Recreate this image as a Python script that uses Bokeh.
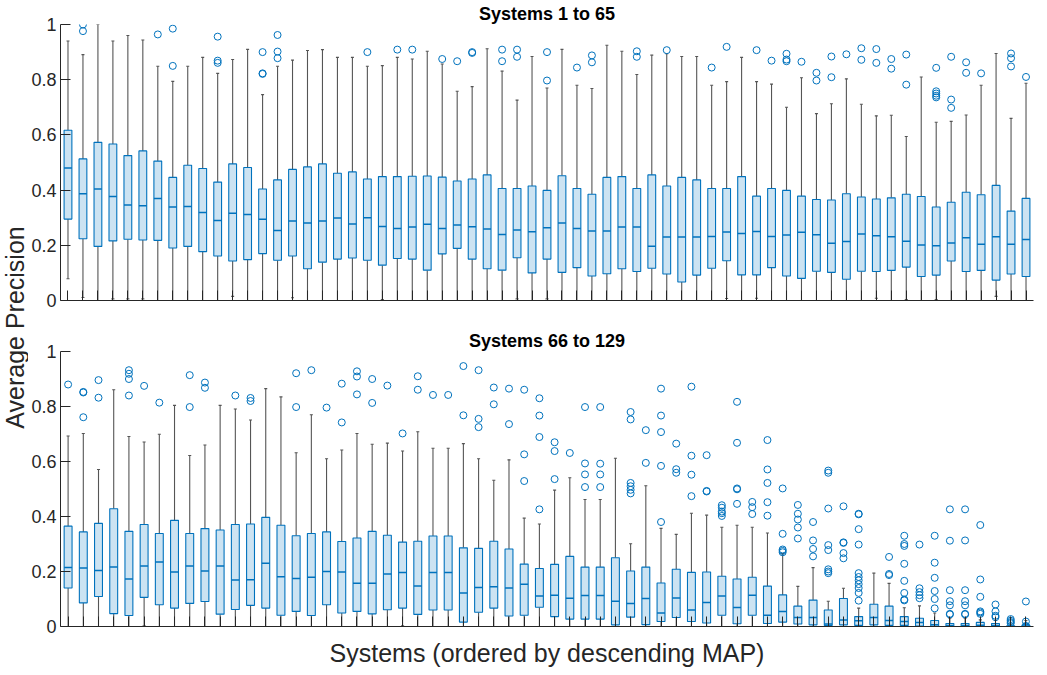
import math
from bokeh.plotting import figure
from bokeh.models import Range1d, FixedTicker, Label, CustomJSTickFormatter
from bokeh.layouts import row, column
from bokeh.embed import file_html
from bokeh.resources import INLINE

# ---------------- data: panel 1 (systems 1 to 65) ----------------
top_whi = [0.94, 0.891, 1.0, 0.94, 0.96, 0.944, 0.849, 0.794, 0.849, 0.881,
           0.823, 0.873, 0.91, 0.746, 0.849, 0.871, 0.906, 0.909, 0.881, 0.881,
           0.849, 0.851, 0.881, 0.875, 0.903, 0.857, 0.758, 0.775, 0.912, 0.831,
           0.726, 0.884, 0.77, 0.91, 0.78, 0.768, 0.925, 0.903, 0.819, 0.889,
           0.894, 0.884, 0.884, 0.78, 0.793, 0.881, 0.793, 0.784, 0.7, 0.807,
           0.677, 0.713, 0.803, 0.711, 0.669, 0.671, 0.594, 0.81, 0.646, 0.649,
           0.672, 0.78, 0.895, 0.66, 0.787]
top_q3 = [0.617, 0.513, 0.573, 0.567, 0.525, 0.542, 0.505, 0.446, 0.49, 0.478,
          0.429, 0.495, 0.482, 0.404, 0.437, 0.475, 0.484, 0.495, 0.461, 0.466,
          0.44, 0.449, 0.449, 0.45, 0.451, 0.447, 0.433, 0.44, 0.455, 0.406,
          0.406, 0.415, 0.399, 0.452, 0.406, 0.385, 0.446, 0.449, 0.406, 0.455,
          0.415, 0.446, 0.437, 0.406, 0.406, 0.449, 0.378, 0.406, 0.399, 0.378,
          0.366, 0.364, 0.387, 0.375, 0.368, 0.372, 0.385, 0.377, 0.339, 0.356,
          0.392, 0.383, 0.417, 0.324, 0.37]
top_med = [0.48, 0.387, 0.404, 0.377, 0.346, 0.343, 0.37, 0.339, 0.341, 0.319,
           0.29, 0.316, 0.312, 0.294, 0.254, 0.288, 0.281, 0.288, 0.299, 0.277,
           0.3, 0.268, 0.261, 0.266, 0.276, 0.261, 0.274, 0.267, 0.259, 0.239,
           0.255, 0.249, 0.264, 0.281, 0.261, 0.252, 0.252, 0.266, 0.266, 0.197,
           0.23, 0.23, 0.23, 0.232, 0.248, 0.243, 0.25, 0.232, 0.237, 0.247,
           0.238, 0.207, 0.214, 0.241, 0.235, 0.231, 0.215, 0.201, 0.198, 0.208,
           0.227, 0.204, 0.231, 0.204, 0.221]
top_q1 = [0.295, 0.224, 0.196, 0.216, 0.222, 0.219, 0.218, 0.19, 0.196, 0.177,
          0.161, 0.143, 0.148, 0.17, 0.146, 0.161, 0.115, 0.139, 0.15, 0.154,
          0.146, 0.128, 0.152, 0.15, 0.11, 0.169, 0.189, 0.15, 0.115, 0.11,
          0.155, 0.1, 0.15, 0.102, 0.119, 0.089, 0.097, 0.115, 0.105, 0.117,
          0.096, 0.067, 0.092, 0.117, 0.144, 0.093, 0.093, 0.119, 0.089, 0.08,
          0.106, 0.102, 0.077, 0.106, 0.105, 0.109, 0.121, 0.087, 0.092, 0.143,
          0.105, 0.109, 0.074, 0.096, 0.087]
top_wlo = [0.079, 0.011, 0.0, 0.006, 0.006, 0.006, 0.0, 0.0, 0.0, 0.0,
           0.0, 0.015, 0.0, 0.0, 0.0, 0.01, 0.0, 0.0, 0.0, 0.0,
           0.0, 0.003, 0.0, 0.0, 0.0, 0.0, 0.0, 0.0, 0.0, 0.0,
           0.006, 0.0, 0.006, 0.0, 0.0, 0.0, 0.0, 0.0, 0.0, 0.0,
           0.0, 0.0, 0.0, 0.0, 0.007, 0.0, 0.008, 0.0, 0.0, 0.0,
           0.0, 0.0, 0.0, 0.0, 0.008, 0.0, 0.003, 0.0, 0.003, 0.0,
           0.0, 0.0, 0.015, 0.0, 0.0]
top_out = [[], [1.0, 0.976], [], [], [], [], [0.964], [0.985, 0.85], [], [],
           [0.956, 0.869, 0.861], [], [], [0.9, 0.823, 0.821], [0.962, 0.902, 0.878], [], [], [], [], [],
           [0.9], [], [0.909], [0.909], [], [0.875], [0.867], [0.9, 0.897], [], [0.909, 0.867],
           [0.909, 0.883], [], [0.9, 0.797], [], [0.844], [0.888, 0.863], [], [], [0.903, 0.883], [],
           [0.907], [], [], [0.844], [0.919], [], [0.907], [0.869], [0.894, 0.873, 0.867], [0.865],
           [0.825, 0.797], [0.884, 0.809], [0.892], [0.914, 0.872], [0.911, 0.861], [0.875, 0.84],
           [0.891, 0.782], [], [0.843, 0.758, 0.75, 0.742, 0.736], [0.883, 0.728, 0.698],
           [0.863, 0.825], [0.823], [], [0.895, 0.878, 0.848], [0.81]]

# ---------------- data: panel 2 (systems 66 to 129) ----------------
bot_whi = [0.693, 0.702, 0.571, 0.861, 0.691, 0.671, 0.699, 0.804, 0.622, 0.66,
           0.804, 0.791, 0.751, 0.865, 0.835, 0.632, 0.77, 0.61, 0.642, 0.702,
           0.663, 0.667, 0.638, 0.708, 0.648, 0.648, 0.665, 0.61, 0.532, 0.606,
           0.394, 0.373, 0.496, 0.541, 0.462, 0.462, 0.612, 0.301, 0.512, 0.357,
           0.335, 0.412, 0.405, 0.361, 0.368, 0.361, 0.34, 0.265, 0.146, 0.214,
           0.092, 0.139, 0.067, 0.194, 0.157, 0.068, 0.075, 0.049, 0.03, 0.03,
           0.024, 0.022, 0.008, 0.022]
bot_q3 = [0.365, 0.344, 0.375, 0.428, 0.346, 0.371, 0.338, 0.386, 0.338, 0.356,
          0.351, 0.371, 0.373, 0.397, 0.368, 0.33, 0.338, 0.344, 0.309, 0.322,
          0.346, 0.332, 0.307, 0.31, 0.329, 0.329, 0.286, 0.284, 0.31, 0.282,
          0.227, 0.211, 0.226, 0.255, 0.216, 0.216, 0.25, 0.202, 0.216, 0.158,
          0.208, 0.197, 0.198, 0.183, 0.173, 0.179, 0.147, 0.115, 0.074, 0.096,
          0.06, 0.102, 0.036, 0.081, 0.074, 0.036, 0.03, 0.022, 0.011, 0.011,
          0.015, 0.011, 0.003, 0.005]
bot_med = [0.215, 0.213, 0.204, 0.216, 0.173, 0.22, 0.235, 0.198, 0.22, 0.202,
           0.22, 0.169, 0.17, 0.23, 0.181, 0.175, 0.179, 0.2, 0.198, 0.157,
           0.157, 0.191, 0.196, 0.147, 0.196, 0.196, 0.122, 0.142, 0.145, 0.14,
           0.154, 0.111, 0.114, 0.103, 0.113, 0.113, 0.092, 0.084, 0.102, 0.049,
           0.104, 0.06, 0.087, 0.111, 0.069, 0.114, 0.041, 0.055, 0.033, 0.033,
           0.009, 0.024, 0.021, 0.033, 0.022, 0.018, 0.015, 0.006, 0.004, 0.004,
           0.005, 0.004, 0.0, 0.0]
bot_q1 = [0.14, 0.086, 0.109, 0.047, 0.04, 0.106, 0.079, 0.067, 0.084, 0.091,
          0.045, 0.062, 0.077, 0.067, 0.041, 0.055, 0.04, 0.079, 0.049, 0.055,
          0.046, 0.061, 0.067, 0.044, 0.06, 0.06, 0.016, 0.052, 0.067, 0.038,
          0.041, 0.07, 0.036, 0.027, 0.027, 0.027, 0.006, 0.034, 0.007, 0.018,
          0.033, 0.018, 0.013, 0.041, 0.01, 0.041, 0.011, 0.016, 0.009, 0.006,
          0.004, 0.006, 0.004, 0.006, 0.004, 0.004, 0.002, 0.001, 0.0, 0.0,
          0.0, 0.0, 0.0, 0.0]
bot_wlo = [0.0] * 5 + [0.003] + [0.0] * 16 + [0.003] + [0.0] * 41
bot_out = [[0.88], [0.853, 0.851, 0.761], [0.896, 0.832], [], [0.932, 0.919, 0.9, 0.84],
           [0.875], [0.814], [], [0.914, 0.798], [0.887, 0.868],
           [], [0.84], [0.831, 0.82], [], [], [0.921, 0.798], [0.932], [0.796],
           [0.883, 0.742], [0.928, 0.909, 0.844],
           [0.9, 0.813], [0.876], [0.702], [0.91, 0.861], [0.842], [0.842], [0.947, 0.768],
           [0.932, 0.755, 0.725], [0.869, 0.808], [0.865, 0.736],
           [0.861, 0.626, 0.529], [0.83, 0.767, 0.689, 0.426], [0.67, 0.638, 0.536], [0.631],
           [0.798, 0.593, 0.553, 0.507], [0.798, 0.592, 0.553, 0.507], [],
           [0.78, 0.753, 0.522, 0.51, 0.497, 0.484], [0.714, 0.595],
           [0.865, 0.767, 0.707, 0.584, 0.38],
           [0.665, 0.572, 0.559], [0.872, 0.621, 0.552, 0.474], [0.623, 0.493, 0.491],
           [0.441, 0.432, 0.418, 0.412, 0.402], [0.817, 0.668, 0.502, 0.499, 0.446],
           [0.453, 0.434, 0.409], [0.678, 0.571, 0.522, 0.452, 0.403],
           [0.502, 0.337, 0.28, 0.275, 0.27], [0.442, 0.41, 0.389, 0.36, 0.32],
           [0.38, 0.313, 0.282, 0.255],
           [0.567, 0.559, 0.429, 0.296, 0.278, 0.208, 0.2, 0.194],
           [0.437, 0.306, 0.304, 0.267, 0.248],
           [0.41, 0.408, 0.354, 0.298, 0.194, 0.18, 0.168, 0.154, 0.14, 0.122, 0.094],
           [], [0.253, 0.191, 0.187],
           [0.33, 0.3, 0.293, 0.228, 0.166, 0.122, 0.098, 0.095],
           [0.298, 0.139, 0.125, 0.114, 0.103], [0.33, 0.232, 0.177, 0.129, 0.1, 0.066],
           [0.426, 0.312, 0.132, 0.092, 0.077, 0.046, 0.044],
           [0.426, 0.313, 0.132, 0.092, 0.077, 0.046, 0.044],
           [0.369, 0.171, 0.108, 0.055, 0.051, 0.046], [0.08, 0.055, 0.039, 0.034],
           [0.027, 0.021, 0.016, 0.012], [0.091, 0.018, 0.002, 0.0]]

top_title = "Systems 1 to 65"
bot_title = "Systems 66 to 129"
x_label = "Systems (ordered by descending MAP)"
y_label = "Average Precision"
y_ticks = [0, 0.2, 0.4, 0.6, 0.8, 1]

BLUE = "#0072BD"
FILL = "#CCE3F2"
WHISK = "#555555"
AX = "#262626"
FONT = "Liberation Sans"
HALF = 0.26
CAP = 0.1


def panel(title, whi, q3, med, q1, wlo, outl, mtop, mbot, fh, tstand, xlab=None):
    n = len(med)
    xs = list(range(1, n + 1))
    p = figure(frame_width=973, frame_height=fh, title=title,
               x_range=Range1d(0.5, n + 0.5), y_range=Range1d(0, 1),
               output_backend="svg", toolbar_location=None,
               min_border_left=29, min_border_right=4,
               min_border_top=mtop, min_border_bottom=mbot)
    p.title.align = "center"
    p.title.text_font = FONT
    p.title.text_font_size = "18px"
    p.title.text_font_style = "bold"
    p.title.text_color = "black"
    p.title.standoff = tstand
    p.outline_line_color = None
    p.xgrid.visible = False
    p.ygrid.visible = False
    xa = p.xaxis[0]
    ya = p.yaxis[0]
    xa.ticker = FixedTicker(ticks=xs)
    xa.major_tick_in = 10
    xa.major_tick_out = 0
    xa.minor_tick_line_color = None
    xa.major_label_text_font_size = "1px"
    xa.major_label_text_color = None
    xa.major_label_standoff = 0
    xa.axis_line_color = AX
    xa.major_tick_line_color = AX
    if xlab:
        xa.axis_label = xlab
        xa.axis_label_text_font = FONT
        xa.axis_label_text_font_size = "25px"
        xa.axis_label_text_font_style = "normal"
        xa.axis_label_text_color = AX
        xa.axis_label_standoff = 12
    ya.ticker = FixedTicker(ticks=y_ticks)
    ya.formatter = CustomJSTickFormatter(code="return String(Math.round(tick*10)/10)")
    ya.major_tick_in = 10
    ya.major_tick_out = 0
    ya.minor_tick_line_color = None
    ya.axis_line_color = AX
    ya.major_tick_line_color = AX
    ya.major_label_text_font = FONT
    ya.major_label_text_font_size = "18px"
    ya.major_label_text_color = AX
    ya.major_label_standoff = 4

    # whiskers
    p.segment(x0=xs, y0=q3, x1=xs, y1=whi, line_color=WHISK, line_width=1.1)
    p.segment(x0=xs, y0=q1, x1=xs, y1=wlo, line_color=WHISK, line_width=1.1)
    p.segment(x0=[x - CAP for x in xs], y0=whi, x1=[x + CAP for x in xs], y1=whi,
              line_color=WHISK, line_width=1.1)
    p.segment(x0=[x - CAP for x in xs], y0=wlo, x1=[x + CAP for x in xs], y1=wlo,
              line_color=WHISK, line_width=1.1)
    # boxes
    p.quad(left=[x - HALF for x in xs], right=[x + HALF for x in xs], bottom=q1, top=q3,
           fill_color=FILL, line_color=BLUE, line_width=1.1)
    p.segment(x0=[x - HALF for x in xs], y0=med, x1=[x + HALF for x in xs], y1=med,
              line_color=BLUE, line_width=1.5)
    # outliers
    ox, oy = [], []
    for x, vals in zip(xs, outl):
        for v in vals:
            ox.append(x)
            oy.append(v)
    p.scatter(x=ox, y=oy, marker="circle", size=7, fill_color=None,
              line_color=BLUE, line_width=1)
    return p


p_top = panel(top_title, top_whi, top_q3, top_med, top_q1, top_wlo, top_out,
              24, 19, 276, 2)
p_bot = panel(bot_title, bot_whi, bot_q3, bot_med, bot_q1, bot_wlo, bot_out,
              32, 45, 275, 2, xlab=x_label)

LAB_H = 24 + 276 + 19 + 32 + 275 + 45
lab = figure(width=28, height=LAB_H, title=None, x_axis_type=None, y_axis_type=None,
             x_range=Range1d(0, 28), y_range=Range1d(0, LAB_H), min_border=0,
             output_backend="svg", toolbar_location=None)
lab.outline_line_color = None
lab.add_layout(Label(x=14, y=LAB_H - 327, text=y_label, angle=math.pi / 2,
                     text_align="center", text_baseline="middle", text_font=FONT,
                     text_font_size="25px", text_color=AX))

layout = row(lab, column(p_top, p_bot))
open("out.html", "w").write(file_html(layout, INLINE))
